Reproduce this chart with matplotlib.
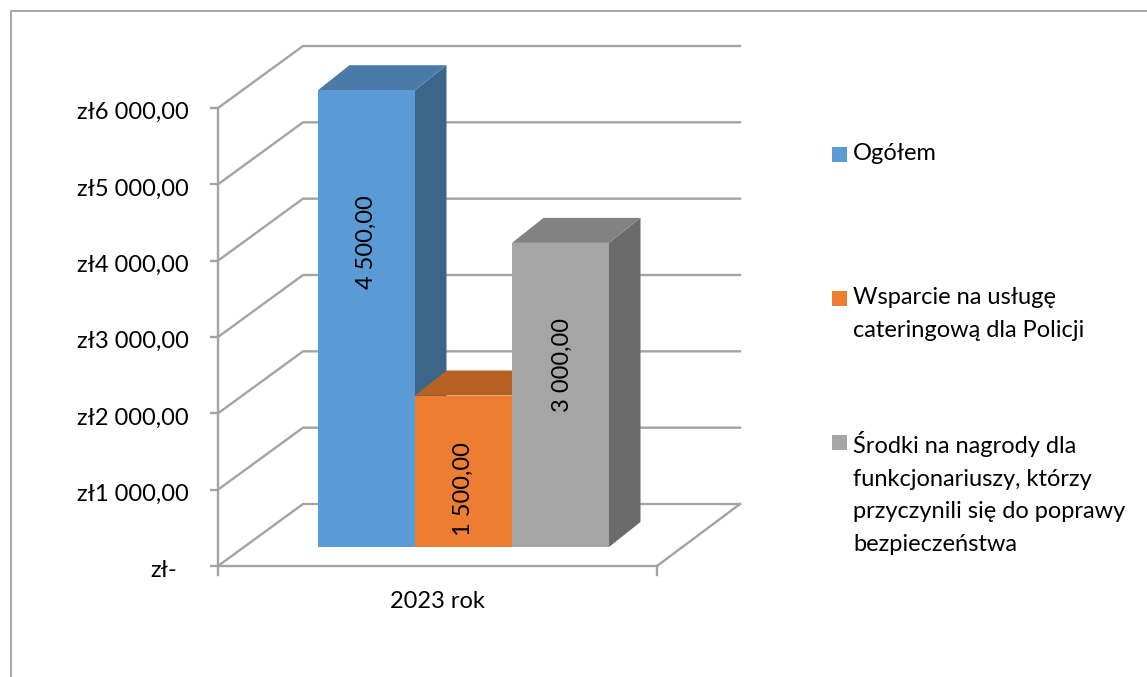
import matplotlib
matplotlib.use("Agg")
import matplotlib.pyplot as plt
from matplotlib.patches import Polygon, Rectangle
from matplotlib.transforms import ScaledTranslation

categories = ["2023 rok"]
series_names = ["Ogółem", "Wsparcie na usługę\ncateringową dla Policji",
                "Środki na nagrody dla\nfunkcjonariuszy, którzy\nprzyczynili się do poprawy\nbezpieczeństwa"]
plotted_values = [6000, 2000, 4000]
value_labels = ["4 500,00", "1 500,00", "3 000,00"]
front_colors = ["#5B9BD5", "#ED7D31", "#A5A5A5"]
top_colors = ["#4A7BA8", "#B85F22", "#828282"]
side_colors = ["#3C6689", "#96501F", "#6B6B6B"]
y_ticks = [0, 1000, 2000, 3000, 4000, 5000, 6000]
y_labels = ["zł-", "zł1 000,00", "zł2 000,00", "zł3 000,00", "zł4 000,00", "zł5 000,00", "zł6 000,00"]

W, H = 1147, 677
plt.rcParams["font.family"] = ["Lato", "DejaVu Sans"]
FS = 17
TXT = "#000000"
fig = plt.figure(figsize=(W / 100, H / 100), dpi=100)

fig.add_artist(plt.Line2D([11 / W, 11 / W, 1], [0, 1 - 11 / H, 1 - 11 / H], color="#9a9a9a", lw=1.2))

L, R, B, T = 218, 657, 566, 108
ax = fig.add_axes([L / W, 1 - B / H, (R - L) / W, (B - T) / H])
ax.set_xlim(0, 1)
ax.set_ylim(0, 6000)
ax.patch.set_visible(False)
for s in ax.spines.values():
    s.set_visible(False)

px = 1 / (R - L)
py = 6000 / (B - T)
GRID = "#A3A3A3"
LW = 1.7
dx, dy = 85 * px, 62 * py

for v in y_ticks:
    ax.plot([0, dx, dx + (740 - 303) * px], [v, v + dy, v + dy], color=GRID, lw=LW, clip_on=False, zorder=1)
ax.plot([0, 0], [0, 6000], color=GRID, lw=LW, clip_on=False, zorder=2)
ax.plot([1, 1 + 83 * px], [0, dy], color=GRID, lw=LW, clip_on=False, zorder=1)
ax.plot([0, 1], [0, 0], color=GRID, lw=LW, clip_on=False, zorder=2)
ax.plot([1, 1], [0, -9 * py], color=GRID, lw=LW, clip_on=False, zorder=2)
ax.plot([0, 0], [0, -9 * py], color=GRID, lw=LW, clip_on=False, zorder=2)

ax.set_xticks([0.5])
ax.set_xticklabels(categories, fontsize=FS, color=TXT)
ax.tick_params(axis="x", length=0, pad=18)
ax.set_yticks(y_ticks)
ax.set_yticklabels(y_labels, fontsize=FS, color=TXT)
ax.tick_params(axis="y", length=6, width=LW, color=GRID, pad=15)
down = ScaledTranslation(0, -2 / 72, fig.dpi_scale_trans)
for t in ax.get_yticklabels():
    t.set_transform(t.get_transform() + down)
zero_shift = ScaledTranslation(-12 / 100, 0, fig.dpi_scale_trans)
zl = ax.get_yticklabels()[0]
zl.set_transform(zl.get_transform() + zero_shift)

x0 = 100 * px
bar_w = 97 * px
base = 19 * py
sx, sy = 31.5 * px, 25 * py
top_adj = 1.2 * py
label_mid = [4246, 1009, 2634]
for i, (v, lab, ym) in enumerate(zip(plotted_values, value_labels, label_mid)):
    x = x0 + i * bar_w
    y1 = v + base - top_adj
    ax.add_patch(Polygon([(x + bar_w, base), (x + bar_w + sx, base + sy), (x + bar_w + sx, y1 + sy), (x + bar_w, y1)],
                         closed=True, fc=side_colors[i], ec="none", zorder=5 + i, clip_on=False))
    ax.add_patch(Polygon([(x, y1), (x + sx, y1 + sy), (x + bar_w + sx, y1 + sy), (x + bar_w, y1)],
                         closed=True, fc=top_colors[i], ec="none", zorder=5 + i, clip_on=False))
    ax.add_patch(Rectangle((x, base), bar_w, y1 - base, fc=front_colors[i], ec="none", zorder=5.5 + i, clip_on=False))
    ax.text(x + bar_w / 2 + (1.5 if i == 2 else 0) * px, ym, lab, rotation=90, ha="center", va="center",
            fontsize=FS, color=TXT, zorder=20)

legend_y = [154, 298, 442]
text_top = [143, 287, 431]
for name, c, y, ty in zip(series_names, front_colors, legend_y, text_top):
    fig.patches.append(Rectangle((832 / W, 1 - (y + 8) / H), 15 / W, 15 / H, transform=fig.transFigure, fc=c, ec="none"))
    fig.text(853 / W, 1 - ty / H, name, fontsize=FS, color=TXT, va="top", ha="left", linespacing=1.68)

fig.savefig("out.png", dpi=100)
